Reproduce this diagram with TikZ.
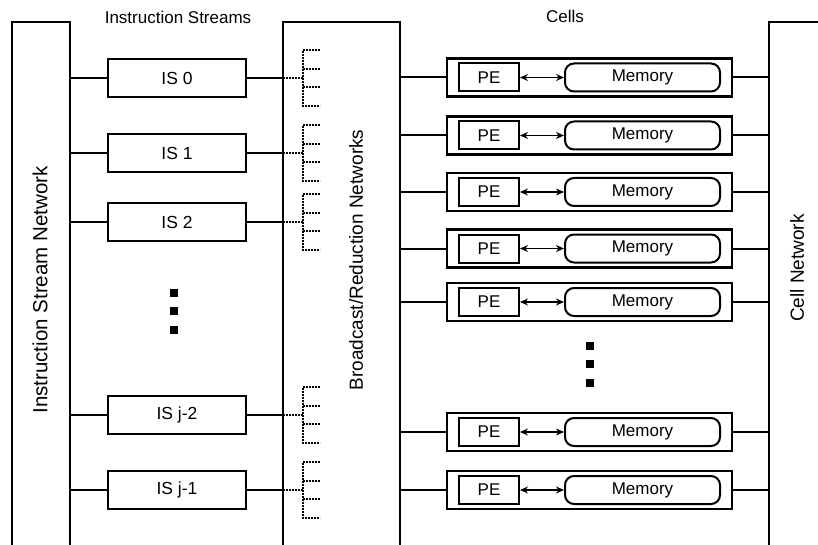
\documentclass[tikz,border=0pt]{standalone}
\usepackage{fontspec}
\setmainfont{Liberation Sans}
\usetikzlibrary{arrows.meta}
\begin{document}
\begin{tikzpicture}[x=1pt,y=-1pt,
  wire/.style={line width=2pt},
  txt/.style={font=\fontsize{17}{20}\selectfont, inner sep=0pt},
  rottxt/.style={font=\fontsize{19}{22}\selectfont, inner sep=0pt, rotate=90},
  isbox/.style={draw, line width=2pt, minimum width=138pt, minimum height=38pt, inner sep=0pt, font=\fontsize{17.5}{20}\selectfont},
  cellbox/.style={draw, line width=2.8pt, minimum width=285pt, minimum height=38pt, inner sep=0pt},
  pebox/.style={draw, line width=2pt, minimum width=60pt, minimum height=28pt, inner sep=0pt, font=\fontsize{17}{20}\selectfont},
  membox/.style={draw, line width=2pt, rounded corners=9pt, minimum width=155pt, minimum height=28pt, inner sep=0pt, font=\fontsize{17}{20}\selectfont},
  dotline/.style={line width=2.2pt, dash pattern=on 2pt off 1pt},
  dotmark/.style={fill, draw=none, minimum size=8pt, inner sep=0pt},
  biarrow/.style={line width=1.3pt, {Stealth[length=8pt,width=7pt]}-{Stealth[length=8pt,width=7pt]}}]
\useasboundingbox (0,0) rectangle (818,545);

% network columns (open at the bottom)
\draw[wire] (12,546) -- (12,22) -- (70,22) -- (70,546);
\draw[wire] (283,546) -- (283,22) -- (400,22) -- (400,546);
\draw[wire] (769,546) -- (769,22) -- (820,22);
\coordinate (isnet) at (70,0);
\coordinate (brnL) at (283,0);
\coordinate (brnR) at (400,0);
\coordinate (cellnet) at (769,0);

% labels
\node[txt] (lblis) at (178,17) {Instruction Streams};
\node[txt] (lblcells) at (565,16) {Cells};
\node[rottxt, font=\fontsize{20.5}{22}\selectfont] (lblisn) at (40,290) {Instruction Stream Network};
\node[rottxt] (lblbrn) at (356,260) {Broadcast/Reduction Networks};
\node[rottxt] (lblcn) at (797,268) {Cell Network};

% instruction streams
\foreach \n/\y/\t in {0/78/IS 0, 1/153/IS 1, 2/222/IS 2, 3/415/IS j-2, 4/490/IS j-1}{
  \node[isbox] (is\n) at (177,\y) {\t};
  \draw[wire] (isnet |- is\n) -- (is\n.west);
  \draw[wire] (is\n.east) -- (brnL |- is\n);
  \coordinate (tr\n) at (303,\y);
  \draw[dotline] (brnL |- is\n) -- (tr\n);
  \draw[dotline] (320,\y-28) -- (303,\y-28) -- (303,\y+28) -- (320,\y+28);
  \draw[dotline] (303,\y-9.33) -- (320,\y-9.33);
  \draw[dotline] (303,\y+9.33) -- (320,\y+9.33);
}

% cells
\foreach \n/\y in {1/77.5, 2/135.5, 3/192, 4/248.5, 5/302, 6/432, 7/490}{
  \node[cellbox] (cell\n) at (589.5,\y) {};
  \node[pebox] (pe\n) at (489,\y) {PE};
  \node[membox] (mem\n) at (642.5,\y) {Memory};
  \draw[biarrow] (pe\n.east) -- (mem\n.west);
  \draw[wire] (brnR |- cell\n) -- (cell\n.west);
  \draw[wire] (cell\n.east) -- (cellnet |- cell\n);
}

% ellipsis marks
\node[dotmark] (d1) at (174,293) {};
\node[dotmark] (d2) at (174,311) {};
\node[dotmark] (d3) at (174,330) {};
\node[dotmark] (d4) at (590,346) {};
\node[dotmark] (d5) at (590,364) {};
\node[dotmark] (d6) at (590,383) {};
\end{tikzpicture}
\end{document}
